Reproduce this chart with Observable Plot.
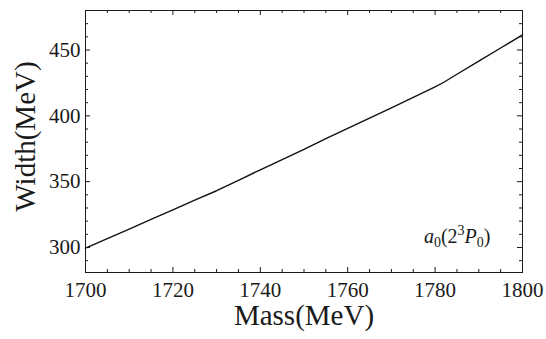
<!DOCTYPE html>
<html><head><meta charset="utf-8">
<script src="https://cdn.jsdelivr.net/npm/d3@7"></script>
<script src="https://cdn.jsdelivr.net/npm/@observablehq/plot@0.6"></script>
<style>body{margin:0;background:#fff}</style>
</head><body><div id="chart"></div>
<script>
// Data
const mass  = [1700, 1705, 1710, 1715, 1720, 1725, 1730, 1735, 1740, 1745, 1750, 1755, 1760, 1765, 1770, 1775, 1780, 1782, 1785, 1790, 1795, 1800];
const widthMeV = [299.5, 306.8, 314.0, 321.3, 328.6, 335.9, 343.1, 351.0, 359.0, 366.7, 374.6, 382.6, 390.5, 398.3, 406.0, 414.0, 422.0, 425.5, 431.6, 441.5, 451.5, 461.5];

const xMajor = [1700, 1720, 1740, 1760, 1780, 1800];
const xMinor = [1705, 1710, 1715, 1725, 1730, 1735, 1745, 1750, 1755, 1765, 1770, 1775, 1785, 1790, 1795];
const yMajor = [300, 350, 400, 450];
const yMinor = [290, 310, 320, 330, 340, 360, 370, 380, 390, 410, 420, 430, 440, 460, 470];
const xLabel = "Mass(MeV)";
const yLabel = "Width(MeV)";
const note = "a0(23P0)";

const data = mass.map((m, i) => ({mass: m, width: widthMeV[i]}));
const ink = "#1a1a1a";
const serif = "'Liberation Serif', 'Times New Roman', serif";

const W = 546, H = 339, mL = 85, mR = 24, mT = 10, mB = 67;
const pw = W - mL - mR, ph = H - mT - mB;
const majorLen = 5, minorLen = 3;

const chart = Plot.plot({
  width: W, height: H,
  marginLeft: mL, marginRight: mR, marginTop: mT, marginBottom: mB,
  style: {fontFamily: serif, background: "#fff", color: ink},
  x: {domain: [1700, 1800], axis: null},
  y: {domain: [281, 480], axis: null},
  marks: [
    // inward ticks on all four sides
    Plot.tickX(xMajor, {x: d => d, insetTop: ph - majorLen, stroke: ink}),
    Plot.tickX(xMinor, {x: d => d, insetTop: ph - minorLen, stroke: ink}),
    Plot.tickX(xMajor, {x: d => d, insetBottom: ph - majorLen, stroke: ink}),
    Plot.tickX(xMinor, {x: d => d, insetBottom: ph - minorLen, stroke: ink}),
    Plot.tickY(yMajor, {y: d => d, insetRight: pw - majorLen, stroke: ink}),
    Plot.tickY(yMinor, {y: d => d, insetRight: pw - minorLen, stroke: ink}),
    Plot.tickY(yMajor, {y: d => d, insetLeft: pw - majorLen, stroke: ink}),
    Plot.tickY(yMinor, {y: d => d, insetLeft: pw - minorLen, stroke: ink}),
    // tick labels
    Plot.text(xMajor, {x: d => d, text: d => String(d), frameAnchor: "bottom", textAnchor: "middle", lineAnchor: "top", dy: 10, fontSize: 21, fontFamily: serif, fill: ink}),
    Plot.text(yMajor, {y: d => d, text: d => String(d), frameAnchor: "left", textAnchor: "end", lineAnchor: "middle", dx: -5, fontSize: 21, fontFamily: serif, fill: ink}),
    Plot.frame({stroke: ink, strokeWidth: 1}),
    Plot.line(data, {x: "mass", y: "width", stroke: "#111", strokeWidth: 1.4}),
    // axis titles
    Plot.text([xLabel], {text: d => d, frameAnchor: "bottom", textAnchor: "middle", lineAnchor: "bottom", dy: 52, fontSize: 29, fontFamily: serif, fill: ink}),
    Plot.text([yLabel], {text: d => d, frameAnchor: "left", textAnchor: "middle", lineAnchor: "middle", rotate: -90, dx: -60, dy: -5, fontSize: 29, fontFamily: serif, fill: ink}),
    // annotation
    Plot.text([note], {text: d => d, frameAnchor: "bottom-right", textAnchor: "end", lineAnchor: "bottom", dx: -32, dy: -30, fontSize: 20, fontFamily: serif, fill: ink})
  ]
});
document.getElementById("chart").appendChild(chart);

// Rich formatting for the annotation a_0(2^3 P_0)
d3.select(chart).selectAll("text").filter(function() { return this.textContent === note; }).each(function() {
  const t = d3.select(this);
  t.text(null);
  t.append("tspan").attr("font-style", "italic").text("a");
  t.append("tspan").attr("dy", 4).attr("font-size", 14).text("0");
  t.append("tspan").attr("dy", -4).text("(2");
  t.append("tspan").attr("dy", -8).attr("font-size", 14).text("3");
  t.append("tspan").attr("dy", 8).attr("font-style", "italic").text("P");
  t.append("tspan").attr("dy", 4).attr("font-size", 14).text("0");
  t.append("tspan").attr("dy", -4).text(")");
});
</script>
</body></html>
